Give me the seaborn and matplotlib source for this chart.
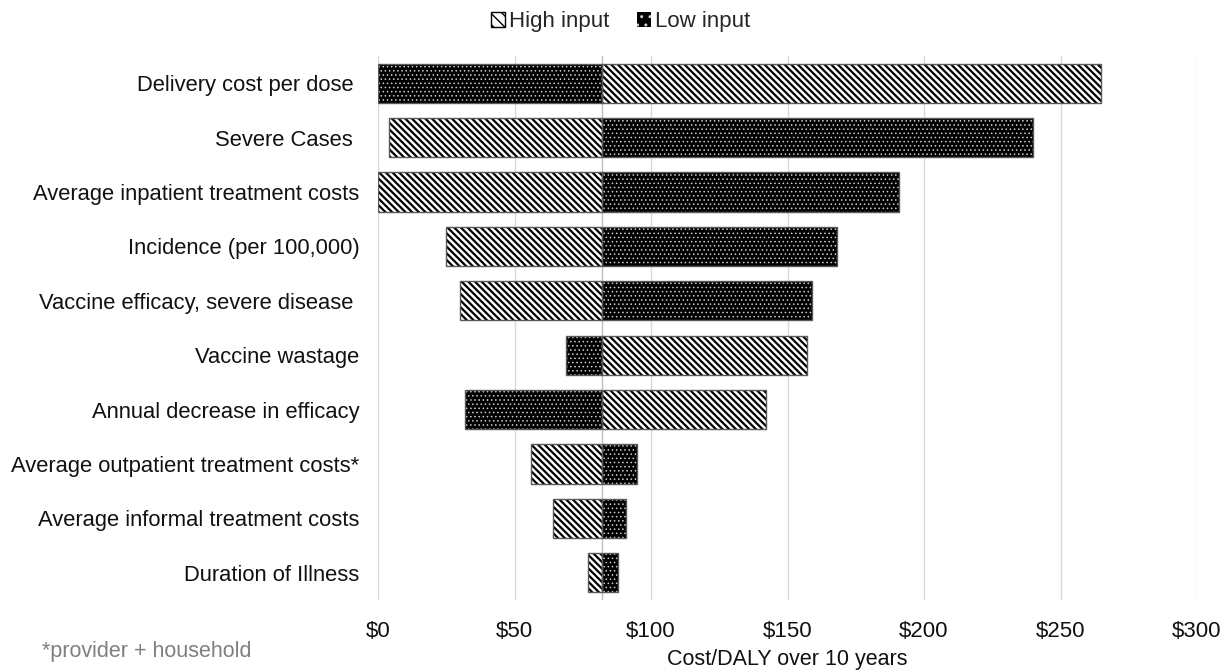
import matplotlib
matplotlib.use('Agg')
import matplotlib.pyplot as plt
from matplotlib.patches import Patch
import seaborn as sns

# Tornado chart: cost/DALY sensitivity, base case in the middle
parameters = ['Delivery cost per dose ', 'Severe Cases ', 'Average inpatient treatment costs',
              'Incidence (per 100,000)', 'Vaccine efficacy, severe disease ', 'Vaccine wastage',
              'Annual decrease in efficacy', 'Average outpatient treatment costs*',
              'Average informal treatment costs', 'Duration of Illness']
base_value = 82
high_input = [265, 4, 0, 25, 30, 157, 142, 56, 64, 77]
low_input = [0, 240, 191, 168, 159, 69, 32, 95, 91, 88]
x_ticks = [0, 50, 100, 150, 200, 250, 300]

sns.set_theme(style='whitegrid')
plt.rcParams['font.family'] = ['Liberation Sans', 'DejaVu Sans']

STRIPES = '\\' * 5
DOTS = '....'

fig = plt.figure(figsize=(12.29, 6.72), dpi=100)
ax = fig.add_axes([378 / 1229, 1 - 600 / 672, (1197 - 378) / 1229, (600 - 56) / 672])

rows = list(range(len(parameters)))
bar_h = 0.72

# high input: white with black diagonal stripes
with plt.rc_context({'hatch.linewidth': 1.6}):
    ax.barh(rows, [v - base_value for v in high_input], left=base_value, height=bar_h,
            color='white', edgecolor='black', hatch=STRIPES, linewidth=0, zorder=3)
    hi_handle = Patch(facecolor='white', edgecolor='black', hatch='\\\\\\', linewidth=1)
# low input: black with small white dots
with plt.rc_context({'hatch.linewidth': 0.6}):
    ax.barh(rows, [v - base_value for v in low_input], left=base_value, height=bar_h,
            color='black', edgecolor='#cccccc', hatch=DOTS, linewidth=0, zorder=3)
    lo_handle = Patch(facecolor='black', edgecolor='#cccccc', hatch='..', linewidth=0)

# thin grey outlines
for vals in (high_input, low_input):
    ax.barh(rows, [v - base_value for v in vals], left=base_value, height=bar_h,
            fill=False, edgecolor='#595959', linewidth=1.0, zorder=4)

ax.axvline(base_value, color='#bfbfbf', linewidth=1.0, zorder=1)

ax.set_xlim(0, 300)
ax.set_ylim(len(parameters) - 0.5, -0.5)
ax.set_xticks(x_ticks)
ax.set_xticklabels([f'${t}' for t in x_ticks])
ax.set_yticks(rows)
ax.set_yticklabels(parameters)
ax.grid(axis='x', color='#d9d9d9', linewidth=1.0)
ax.grid(axis='y', visible=False)
ax.tick_params(axis='x', length=0, pad=15, labelsize=16, labelcolor='#111111')
ax.tick_params(axis='y', length=0, pad=13.5, labelsize=15.8, labelcolor='#111111')
for s in ax.spines.values():
    s.set_visible(False)

fig.legend([hi_handle, lo_handle], ['High input', 'Low input'], loc='center',
           bbox_to_anchor=(0.505, 1 - 22 / 672), ncol=2, frameon=False, fontsize=16,
           handlelength=0.65, handleheight=0.65, handletextpad=0.2, columnspacing=1.2)

fig.text(787 / 1229, 1 - 659 / 672, 'Cost/DALY over 10 years', ha='center', va='center',
         fontsize=15.5, color='#111111')
fig.text(42 / 1229, 1 - 652 / 672, '*provider + household', ha='left', va='center',
         fontsize=15.5, color='#7f7f7f')

fig.savefig('out.png', dpi=100)
